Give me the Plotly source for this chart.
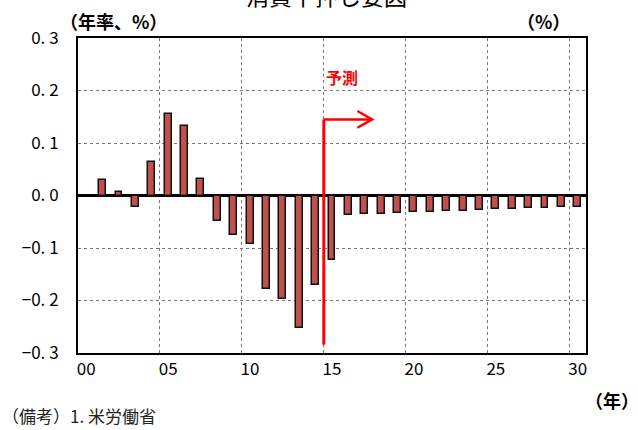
import plotly.graph_objects as go

# 年次（2001〜2030年）と消費下押し要因（年率、%）
years = list(range(1, 31))
values = [0.029, 0.007, -0.022, 0.063, 0.155, 0.133, 0.031, -0.048, -0.075, -0.093,
          -0.178, -0.198, -0.253, -0.170, -0.123, -0.038, -0.036, -0.035, -0.034, -0.032,
          -0.031, -0.030, -0.029, -0.028, -0.026, -0.025, -0.024, -0.023, -0.022, -0.021]

x_tick_vals = [0, 5, 10, 15, 20, 25, 30]
x_tick_text = ["00", "05", "10", "15", "20", "25", "30"]
x_grid_vals = [4.5, 9.5, 14.5, 19.5, 24.5, 29.5]
y_tick_vals = [0.3, 0.2, 0.1, 0.0, -0.1, -0.2, -0.3]
y_tick_text = ["0. 3", "0. 2", "0. 1", "0. 0", "−0. 1", "−0. 2", "−0. 3"]

forecast_start = 14.5
forecast_line = (-0.284, 0.145)
arrow_end = 17.45

FONT = "Noto Sans CJK JP, Noto Sans, sans-serif"

fig = go.Figure()
fig.add_trace(go.Bar(
    x=years, y=values, width=0.42,
    marker=dict(color="#C0504D", line=dict(color="#111111", width=1.5)),
    showlegend=False,
))

# 予測期間を示す縦線と矢印
y_lo, y_hi = forecast_line
fig.add_shape(type="line", x0=forecast_start, x1=forecast_start, y0=y_lo, y1=y_hi,
              line=dict(color="#FF0000", width=3))
fig.add_shape(type="line", x0=forecast_start, x1=arrow_end, y0=y_hi, y1=y_hi,
              line=dict(color="#FF0000", width=2.5))
fig.add_shape(type="path",
              path=f"M {arrow_end - 0.9},{y_hi + 0.016} L {arrow_end},{y_hi} L {arrow_end - 0.9},{y_hi - 0.016}",
              line=dict(color="#FF0000", width=2.5))
fig.add_annotation(x=forecast_start, y=0.225, xanchor="left", yanchor="middle",
                   text="<b>予測</b>", showarrow=False,
                   font=dict(family=FONT, size=16, color="#FF0000"))

# 見出し・単位・出所
fig.add_annotation(xref="paper", yref="paper", x=0.49, y=1.135, xanchor="center", yanchor="middle",
                   text="消費下押し要因", showarrow=False,
                   font=dict(family=FONT, size=23, color="#000000"))
fig.add_annotation(xref="paper", yref="paper", x=-0.04, y=1.055, xanchor="left", yanchor="middle",
                   text="<b>（年率、%）</b>", showarrow=False,
                   font=dict(family=FONT, size=18, color="#000000"))
fig.add_annotation(xref="paper", yref="paper", x=0.972, y=1.055, xanchor="right", yanchor="middle",
                   text="<b>（%）</b>", showarrow=False,
                   font=dict(family=FONT, size=18, color="#000000"))
fig.add_annotation(xref="paper", yref="paper", x=0.995, y=-0.15, xanchor="left", yanchor="middle",
                   text="<b>（年）</b>", showarrow=False,
                   font=dict(family=FONT, size=18, color="#000000"))
fig.add_annotation(xref="paper", yref="paper", x=-0.154, y=-0.198, xanchor="left", yanchor="middle",
                   text="（備考）1. 米労働省", showarrow=False,
                   font=dict(family=FONT, size=17, color="#222222"))

fig.update_layout(
    width=638, height=430,
    margin=dict(l=78, r=52, t=38, b=77),
    paper_bgcolor="#FFFFFF", plot_bgcolor="#FFFFFF",
    font=dict(family=FONT, size=17, color="#000000"),
    bargap=0,
)
fig.update_xaxes(
    range=[-0.5, 30.5], tickmode="array", tickvals=x_tick_vals, ticktext=x_tick_text,
    showgrid=False, ticks="", zeroline=False,
    showline=True, linecolor="#000000", linewidth=2, mirror=True,
    minor=dict(tickmode="array", tickvals=x_grid_vals, showgrid=True,
               gridcolor="#777777", gridwidth=1, griddash="3px,3px", ticks=""),
    tickfont=dict(family=FONT, size=17),
)
fig.update_yaxes(
    range=[-0.3, 0.3], tickmode="array", tickvals=y_tick_vals, ticktext=y_tick_text,
    showgrid=True, gridcolor="#777777", gridwidth=1, griddash="3px,3px",
    zeroline=True, zerolinecolor="#000000", zerolinewidth=2.5,
    showline=True, linecolor="#000000", linewidth=2, mirror=True,
    ticks="", ticklabelstandoff=14,
    tickfont=dict(family=FONT, size=17),
)

fig.write_html("out.html")
